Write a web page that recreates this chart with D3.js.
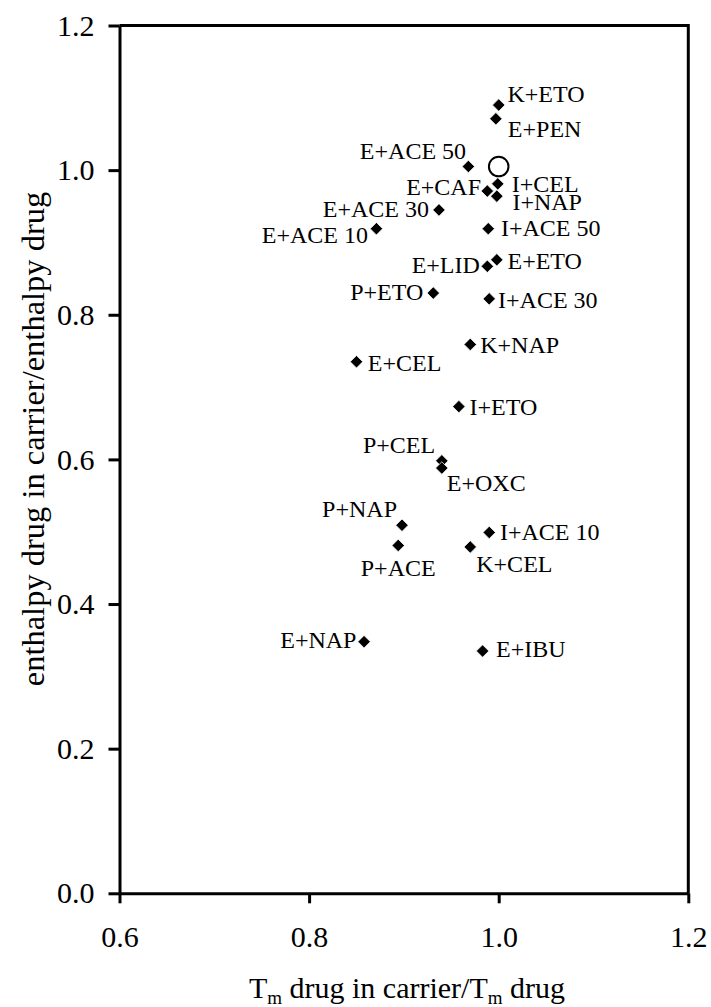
<!DOCTYPE html>
<html><head><meta charset="utf-8">
<script src="https://cdn.jsdelivr.net/npm/d3@7/dist/d3.min.js"></script>
<style>body{margin:0;background:#fff}svg{display:block}</style>
</head><body>
<svg id="chart" width="711" height="1007"></svg>
<script>
const samples = ["K+ETO","E+PEN","E+ACE 50","I+CEL","E+CAF","I+NAP","E+ACE 30","E+ACE 10","I+ACE 50","E+ETO","E+LID","P+ETO","I+ACE 30","K+NAP","E+CEL","I+ETO","P+CEL","E+OXC","P+NAP","I+ACE 10","P+ACE","K+CEL","E+NAP","E+IBU"];
const tmRatio = [1.000,0.997,0.968,0.999,0.988,0.998,0.937,0.871,0.989,0.998,0.988,0.931,0.990,0.970,0.850,0.958,0.940,0.940,0.898,0.990,0.894,0.970,0.858,0.983];
const enthalpyRatio = [1.090,1.071,1.005,0.981,0.971,0.964,0.945,0.919,0.919,0.876,0.867,0.830,0.822,0.759,0.735,0.673,0.598,0.588,0.509,0.499,0.481,0.479,0.348,0.335];
const referenceTm = [1.0];
const referenceEnthalpy = [1.005];
const xTicks = [0.6, 0.8, 1.0, 1.2];
const yTicks = [0.0, 0.2, 0.4, 0.6, 0.8, 1.0, 1.2];

// label placement (layout only): [anchor, dx, dy]
const labelPlacement = {
  "K+ETO":["start",8.7,-3.3], "E+PEN":["start",12,18], "E+ACE 50":["end",-2.3,-7.7],
  "I+CEL":["start",14,7.7], "E+CAF":["end",-6.3,4], "I+NAP":["start",15.6,14],
  "E+ACE 30":["end",-10,7.3], "E+ACE 10":["end",-8.4,14.3], "I+ACE 50":["start",12.7,7.7],
  "E+ETO":["start",10.7,9], "E+LID":["end",-7.5,6.7], "P+ETO":["end",-10,7.4],
  "I+ACE 30":["start",8.8,9.3], "K+NAP":["start",10,8.4], "E+CEL":["start",11.3,9.3],
  "I+ETO":["start",10.7,8.3], "P+CEL":["end",-6.7,-8], "E+OXC":["start",5,23.4],
  "P+NAP":["end",-5,-8.3], "I+ACE 10":["start",10.7,7.7], "P+ACE":["middle",0,30.3],
  "K+CEL":["start",6,25], "E+NAP":["end",-7.6,6.3], "E+IBU":["start",13.4,5.7]
};

const FONT = "'Liberation Serif','Times New Roman',serif";
const plot = {left:119.5, right:688.3, top:25.5, bottom:893.3};
const svg = d3.select("#chart").style("font-family", FONT);

const x = d3.scaleLinear().domain([0.6, 1.2]).range([plot.left, plot.right]);
const y = d3.scaleLinear().domain([0, 1.2]).range([plot.bottom, plot.top]);

// frame (top + right)
svg.append("path")
  .attr("d", `M${plot.left},${plot.top}H${plot.right}V${plot.bottom}`)
  .attr("fill","none").attr("stroke","#000").attr("stroke-width",3);

const xAxis = svg.append("g").attr("transform", `translate(0,${plot.bottom})`)
  .call(d3.axisBottom(x).tickValues(xTicks).tickFormat(d3.format(".1f")).tickSizeInner(10).tickSizeOuter(0).tickPadding(22));
const yAxis = svg.append("g").attr("transform", `translate(${plot.left},0)`)
  .call(d3.axisLeft(y).tickValues(yTicks).tickFormat(d3.format(".1f")).tickSizeInner(11).tickSizeOuter(0).tickPadding(14));
[xAxis, yAxis].forEach(a => {
  a.select(".domain").attr("stroke-width",3).attr("stroke","#000");
  a.selectAll(".tick line").attr("stroke-width",3).attr("stroke","#000");
  a.selectAll(".tick text").attr("font-family",FONT).attr("font-size",30).attr("fill","#000");
});

// points
const data = samples.map((s,i)=>({name:s, tm:tmRatio[i], h:enthalpyRatio[i]}));
const diamond = d3.symbol().type(d3.symbolSquare).size(78);
svg.append("g").selectAll("path").data(data).join("path")
  .attr("d", diamond)
  .attr("transform", d=>`translate(${x(d.tm)},${y(d.h)}) rotate(45)`)
  .attr("fill","#000").attr("stroke","#fff").attr("stroke-width",0.7);

// reference circle
svg.append("g").selectAll("circle").data(referenceTm).join("circle")
  .attr("cx", d=>x(d)).attr("cy", (d,i)=>y(referenceEnthalpy[i])).attr("r",9.8)
  .attr("fill","none").attr("stroke","#000").attr("stroke-width",2);

// labels
svg.append("g").selectAll("text").data(data).join("text")
  .attr("x", d=>x(d.tm)+labelPlacement[d.name][1])
  .attr("y", d=>y(d.h)+labelPlacement[d.name][2])
  .attr("text-anchor", d=>labelPlacement[d.name][0])
  .attr("font-size",24).attr("fill","#000")
  .text(d=>d.name);

// axis titles
const xt = svg.append("text").attr("x",407).attr("y",998)
  .attr("text-anchor","middle").attr("font-size",30);
xt.append("tspan").text("T");
xt.append("tspan").attr("font-size",19).attr("dy",6).text("m");
xt.append("tspan").attr("dy",-6).text(" drug in carrier/T");
xt.append("tspan").attr("font-size",19).attr("dy",6).text("m");
xt.append("tspan").attr("dy",-6).text(" drug");

svg.append("text").attr("transform",`translate(44,439) rotate(-90)`)
  .attr("text-anchor","middle").attr("font-size",32.5)
  .text("enthalpy drug in carrier/enthalpy drug");
</script>
</body></html>
